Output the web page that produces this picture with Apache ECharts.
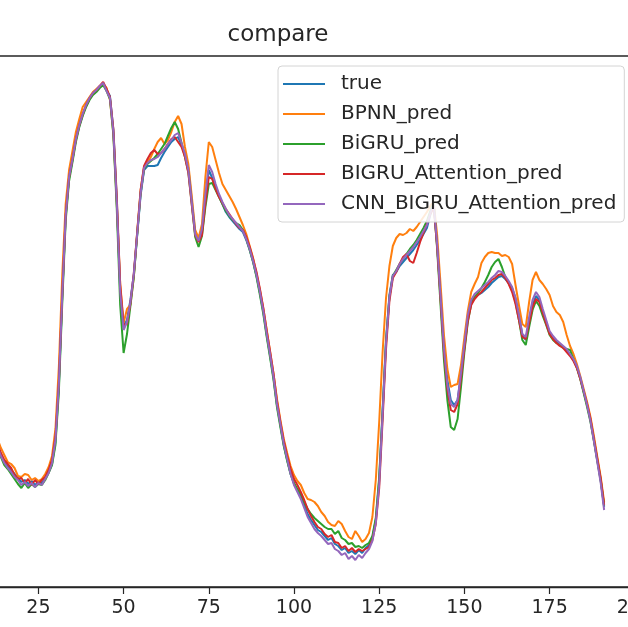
<!DOCTYPE html>
<html>
<head>
<meta charset="utf-8">
<script src="https://cdn.jsdelivr.net/npm/echarts@6/dist/echarts.min.js"></script>
<style>
  html, body { margin: 0; padding: 0; background: #fff; }
  #main { width: 628px; height: 627px; }
</style>
</head>
<body>
<div id="main"></div>
<script>
// series names (legend order)
var names = ['true', 'BPNN_pred', 'BiGRU_pred', 'BIGRU_Attention_pred', 'CNN_BIGRU_Attention_pred'];
var colors = ['#1f77b4', '#ff7f0e', '#2ca02c', '#d62728', '#9467bd'];
var xTicks = [25, 50, 75, 100, 125, 150, 175, 200];

// values, index 0..191
var trueVals = [
  57.4, 55.4, 53.0, 50.4, 47.8, 45.4, 43.0, 40.4, 38.2, 36.0,
  33.8, 31.8, 30.0, 28.2, 26.4, 25.0, 24.2, 23.4, 22.6, 21.8,
  21.0, 21.4, 20.6, 21.2, 20.4, 21.0, 20.8, 21.8, 23.0, 24.6,
  29.0, 40.0, 58.0, 74.0, 81.8, 85.4, 89.4, 92.2, 94.4, 96.2,
  97.6, 98.6, 99.2, 100.0, 100.8, 99.4, 98.2, 91.4, 77.4, 59.4,
  52.0, 53.4, 57.4, 62.4, 70.4, 78.4, 83.4, 84.2, 84.2, 84.2,
  84.4, 85.8, 87.0, 88.0, 89.0, 89.6, 90.0, 88.4, 86.4, 83.8,
  77.4, 71.0, 69.4, 71.0, 77.4, 83.4, 81.8, 79.8, 78.2, 76.6,
  75.0, 74.0, 73.2, 72.4, 71.6, 71.0, 69.4, 67.4, 65.0, 62.2,
  58.8, 55.0, 50.4, 46.2, 41.8, 36.4, 32.4, 28.4, 25.4, 22.6,
  20.6, 19.4, 18.2, 16.4, 14.6, 13.4, 12.4, 11.4, 11.0, 10.2,
  9.4, 9.8, 8.6, 8.2, 7.4, 7.8, 6.8, 7.2, 6.6, 7.4,
  6.8, 7.8, 8.4, 9.8, 13.4, 21.4, 35.4, 49.4, 58.4, 62.4,
  63.0, 64.2, 65.0, 65.8, 66.6, 67.4, 68.4, 69.4, 70.6, 71.8,
  74.4, 76.4, 68.4, 58.4, 48.4, 41.4, 37.4, 36.4, 37.4, 42.4,
  48.0, 53.8, 57.0, 58.0, 58.4, 58.8, 59.4, 60.0, 60.8, 61.4,
  62.0, 62.2, 61.6, 60.8, 59.8, 57.8, 54.4, 50.4, 49.4, 53.0,
  56.4, 58.2, 57.4, 55.0, 53.0, 50.8, 49.8, 49.0, 48.4, 48.0,
  47.4, 46.4, 45.4, 44.0, 41.8, 39.0, 36.4, 33.4, 29.4, 25.4,
  21.4, 16.0
];
var bpnnVals = [
  58.6, 56.8, 54.2, 51.8, 49.0, 46.8, 44.2, 41.8, 39.6, 37.2,
  35.2, 33.0, 31.4, 29.6, 27.8, 26.4, 25.0, 24.6, 23.8, 22.2,
  22.0, 22.6, 22.4, 21.4, 21.8, 21.2, 21.6, 22.6, 24.0, 26.2,
  31.6, 44.0, 62.4, 76.6, 83.4, 87.2, 91.0, 93.6, 96.0, 97.0,
  98.0, 99.0, 99.6, 100.2, 100.6, 99.8, 97.4, 90.6, 76.6, 60.8,
  52.8, 55.6, 56.4, 62.0, 71.2, 79.4, 84.0, 85.0, 86.0, 87.6,
  89.0, 89.8, 88.6, 89.4, 91.0, 93.0, 94.2, 92.6, 88.0, 84.6,
  78.2, 71.4, 69.8, 72.6, 82.0, 89.0, 88.0, 85.4, 82.8, 80.6,
  79.4, 78.2, 77.0, 75.6, 74.0, 72.4, 70.6, 68.2, 65.8, 62.6,
  59.4, 55.6, 51.4, 47.0, 42.6, 37.6, 33.4, 29.6, 26.8, 24.2,
  22.4, 21.2, 20.4, 18.8, 17.6, 17.4, 17.0, 16.2, 15.0, 14.2,
  13.0, 12.4, 12.2, 13.2, 12.6, 11.2, 10.0, 9.6, 11.2, 10.2,
  9.0, 9.6, 10.8, 14.0, 21.4, 33.0, 47.0, 57.8, 64.2, 68.2,
  69.8, 70.6, 70.4, 70.8, 71.6, 71.2, 72.0, 73.0, 74.0, 75.0,
  76.2, 77.0, 70.4, 60.6, 50.4, 43.6, 40.0, 40.4, 40.6, 44.4,
  50.0, 55.2, 59.0, 60.6, 62.0, 64.8, 66.0, 66.8, 67.0, 66.8,
  66.8, 66.2, 66.4, 66.0, 64.6, 60.4, 56.4, 52.6, 52.0, 57.0,
  61.4, 63.0, 61.4, 60.6, 59.6, 58.4, 56.2, 55.0, 54.4, 53.0,
  50.4, 48.2, 46.6, 44.6, 42.2, 39.6, 37.0, 34.0, 30.2, 26.0,
  22.0, 17.0
];
var bigruVals = [
  57.0, 55.0, 52.6, 50.0, 47.4, 45.0, 42.6, 40.0, 37.8, 35.6,
  33.4, 31.4, 29.6, 27.8, 26.0, 24.4, 23.6, 22.6, 21.6, 20.6,
  19.8, 20.8, 19.8, 20.6, 20.0, 20.6, 20.4, 21.4, 22.8, 24.4,
  28.4, 39.0, 56.8, 73.2, 81.2, 85.0, 89.0, 92.0, 94.2, 96.0,
  97.4, 98.4, 99.0, 99.8, 100.4, 99.2, 97.6, 90.4, 75.6, 56.4,
  46.8, 50.6, 56.2, 62.0, 70.6, 78.8, 83.6, 84.6, 85.2, 85.8,
  86.6, 87.6, 88.6, 90.2, 91.8, 93.0, 91.6, 88.8, 86.0, 83.0,
  76.6, 70.0, 68.0, 70.2, 76.0, 80.6, 80.8, 79.4, 78.0, 76.6,
  75.2, 74.2, 73.4, 72.8, 72.4, 71.4, 69.6, 67.4, 65.0, 62.0,
  58.4, 54.6, 50.0, 45.8, 41.4, 36.0, 32.0, 28.2, 25.2, 22.6,
  20.8, 19.6, 18.6, 17.0, 15.6, 14.6, 13.8, 13.2, 12.6, 12.0,
  11.6, 11.6, 10.6, 11.2, 9.8, 9.4, 8.6, 8.8, 8.0, 8.2,
  7.8, 8.4, 8.8, 10.2, 13.8, 22.0, 35.0, 49.0, 58.0, 62.2,
  63.4, 64.6, 65.6, 66.6, 67.6, 68.4, 69.4, 70.6, 71.8, 73.2,
  75.2, 76.8, 67.6, 56.4, 45.4, 37.4, 32.0, 31.4, 33.6, 40.0,
  47.0, 53.0, 56.6, 58.0, 58.8, 59.8, 61.0, 62.4, 64.0, 65.0,
  65.6, 64.0, 62.0, 60.8, 59.4, 57.0, 53.4, 49.4, 48.4, 52.0,
  55.4, 57.2, 56.2, 54.2, 52.4, 50.4, 49.4, 48.8, 48.4, 47.8,
  47.6, 47.4, 45.6, 43.8, 41.6, 38.8, 36.0, 33.0, 29.2, 25.2,
  21.2, 16.2
];
var attnVals = [
  57.8, 55.8, 53.4, 50.8, 48.2, 45.8, 43.4, 40.8, 38.6, 36.4,
  34.2, 32.2, 30.4, 28.6, 26.8, 25.4, 24.6, 23.8, 22.4, 21.6,
  21.8, 20.8, 21.6, 20.4, 21.4, 20.6, 21.4, 22.0, 23.4, 25.4,
  30.0, 41.0, 58.6, 74.4, 82.0, 85.6, 89.6, 92.4, 94.6, 96.4,
  97.8, 98.8, 99.4, 100.2, 101.0, 99.6, 98.0, 91.6, 78.0, 60.4,
  52.4, 52.6, 56.8, 62.8, 71.0, 79.4, 84.2, 85.6, 86.8, 87.4,
  86.6, 86.8, 87.6, 88.6, 89.6, 90.0, 89.0, 88.0, 86.0, 82.8,
  76.4, 70.4, 69.0, 70.4, 76.8, 82.0, 81.6, 79.6, 78.0, 76.8,
  75.6, 74.6, 73.6, 72.6, 71.8, 71.4, 70.0, 68.0, 65.6, 63.0,
  59.6, 55.8, 51.2, 47.0, 42.6, 37.2, 33.0, 29.2, 26.2, 23.6,
  21.6, 20.4, 19.0, 17.4, 15.6, 14.2, 13.0, 12.0, 11.6, 10.6,
  10.0, 10.4, 9.0, 8.8, 7.8, 8.2, 7.2, 7.8, 7.0, 7.6,
  7.2, 7.6, 8.0, 9.4, 12.6, 19.8, 33.4, 47.6, 57.2, 61.8,
  63.0, 64.6, 66.0, 66.6, 65.2, 64.8, 66.8, 69.0, 70.8, 72.6,
  74.6, 76.0, 68.0, 57.6, 47.0, 39.6, 35.4, 35.0, 36.6, 41.8,
  47.6, 53.2, 56.4, 57.6, 58.4, 59.0, 59.8, 60.6, 61.4, 61.8,
  62.4, 62.6, 61.8, 60.6, 59.0, 56.6, 53.4, 50.0, 49.6, 52.8,
  56.0, 57.6, 57.0, 54.8, 52.6, 50.6, 49.6, 48.8, 48.2, 47.8,
  47.0, 46.2, 45.2, 43.8, 41.6, 39.2, 36.6, 33.6, 29.6, 25.6,
  21.6, 16.4
];
var cnnVals = [
  57.2, 55.2, 52.8, 50.2, 47.6, 45.2, 42.8, 40.2, 38.0, 35.8,
  33.6, 31.6, 29.8, 28.0, 26.2, 24.8, 23.8, 23.0, 22.0, 21.4,
  20.4, 21.0, 20.2, 20.8, 20.0, 20.8, 20.4, 21.6, 22.8, 24.8,
  29.4, 40.6, 58.4, 74.2, 82.0, 85.6, 89.6, 92.4, 94.6, 96.4,
  97.8, 98.8, 99.4, 100.2, 100.8, 99.2, 97.8, 91.0, 77.0, 59.0,
  51.4, 53.0, 57.0, 62.6, 70.8, 78.8, 83.8, 84.8, 85.4, 85.6,
  86.0, 86.8, 87.6, 88.6, 89.4, 90.4, 90.8, 88.8, 86.6, 83.4,
  77.0, 70.6, 69.2, 71.6, 78.6, 84.4, 83.0, 80.6, 78.6, 77.0,
  75.6, 74.4, 73.6, 72.8, 72.0, 71.2, 69.6, 67.6, 65.2, 62.4,
  59.0, 55.2, 50.6, 46.4, 42.0, 36.6, 32.6, 28.6, 25.6, 22.6,
  20.4, 19.0, 17.6, 15.8, 14.0, 12.8, 11.6, 10.8, 10.2, 9.4,
  8.6, 8.8, 7.6, 7.2, 6.4, 6.8, 5.6, 6.2, 5.4, 6.4,
  5.8, 6.8, 7.6, 9.2, 12.8, 20.6, 34.6, 48.8, 58.0, 62.2,
  63.2, 64.6, 65.6, 66.4, 67.2, 68.0, 69.0, 70.0, 71.2, 72.4,
  74.8, 76.6, 68.6, 58.2, 47.8, 40.4, 36.6, 36.0, 37.4, 42.8,
  48.6, 54.4, 57.4, 58.6, 59.2, 59.8, 60.4, 61.0, 61.8, 62.4,
  63.2, 63.0, 62.2, 61.2, 60.0, 57.8, 54.4, 50.6, 50.0, 54.0,
  57.4, 59.0, 58.0, 55.6, 53.4, 51.2, 50.2, 49.4, 48.8, 48.2,
  47.6, 46.6, 45.6, 44.2, 42.0, 39.2, 36.4, 33.2, 29.2, 25.0,
  20.8, 15.4
];
var allVals = [trueVals, bpnnVals, bigruVals, attnVals, cnnVals];

var myChart = echarts.init(document.getElementById('main'));
var font = 'DejaVu Sans';

myChart.setOption({
  animation: false,
  backgroundColor: '#fff',
  title: {
    text: 'compare',
    left: 278,
    top: 24,
    padding: 0,
    textAlign: 'center',
    textStyle: { fontFamily: font, fontSize: 23, fontWeight: 'normal', color: '#262626' }
  },
  legend: {
    orient: 'vertical',
    left: 278,
    top: 66,
    padding: [3, 8, 3, 5],
    itemGap: 0,
    itemWidth: 42,
    itemHeight: 2,
    icon: 'rect',
    backgroundColor: 'rgba(255,255,255,0.85)',
    borderColor: '#d4d4d4',
    borderWidth: 1,
    borderRadius: 4,
    textStyle: { fontFamily: font, fontSize: 20, color: '#262626', lineHeight: 30, padding: [0, 0, 0, 11] },
    data: names
  },
  // grid wider than the window: the picture is a crop of a bigger plot
  grid: {
    left: -132,
    right: -92,
    top: 56,
    bottom: 40,
    outerBoundsMode: 'none',
    containLabel: false,
    show: true,
    borderColor: '#262626',
    borderWidth: 1.3
  },
  xAxis: {
    type: 'value',
    min: -25,
    max: 225,
    interval: 25,
    splitLine: { show: false },
    axisLine: { lineStyle: { color: '#262626', width: 1.3 } },
    axisTick: { length: 7, lineStyle: { color: '#262626', width: 1.2 } },
    axisLabel: {
      margin: 12,
      fontFamily: font,
      fontSize: 19,
      color: '#262626',
      showMinLabel: true,
      showMaxLabel: true,
      formatter: function (v) { return String(v); }
    }
  },
  yAxis: {
    type: 'value',
    min: 0,
    max: 106.2,
    show: false,
    splitLine: { show: false }
  },
  series: names.map(function (n, k) {
    return {
      name: n,
      type: 'line',
      showSymbol: false,
      symbol: 'none',
      color: colors[k],
      lineStyle: { width: 2, color: colors[k] },
      data: allVals[k].map(function (v, i) { return [i, v]; })
    };
  })
});
</script>
</body>
</html>
